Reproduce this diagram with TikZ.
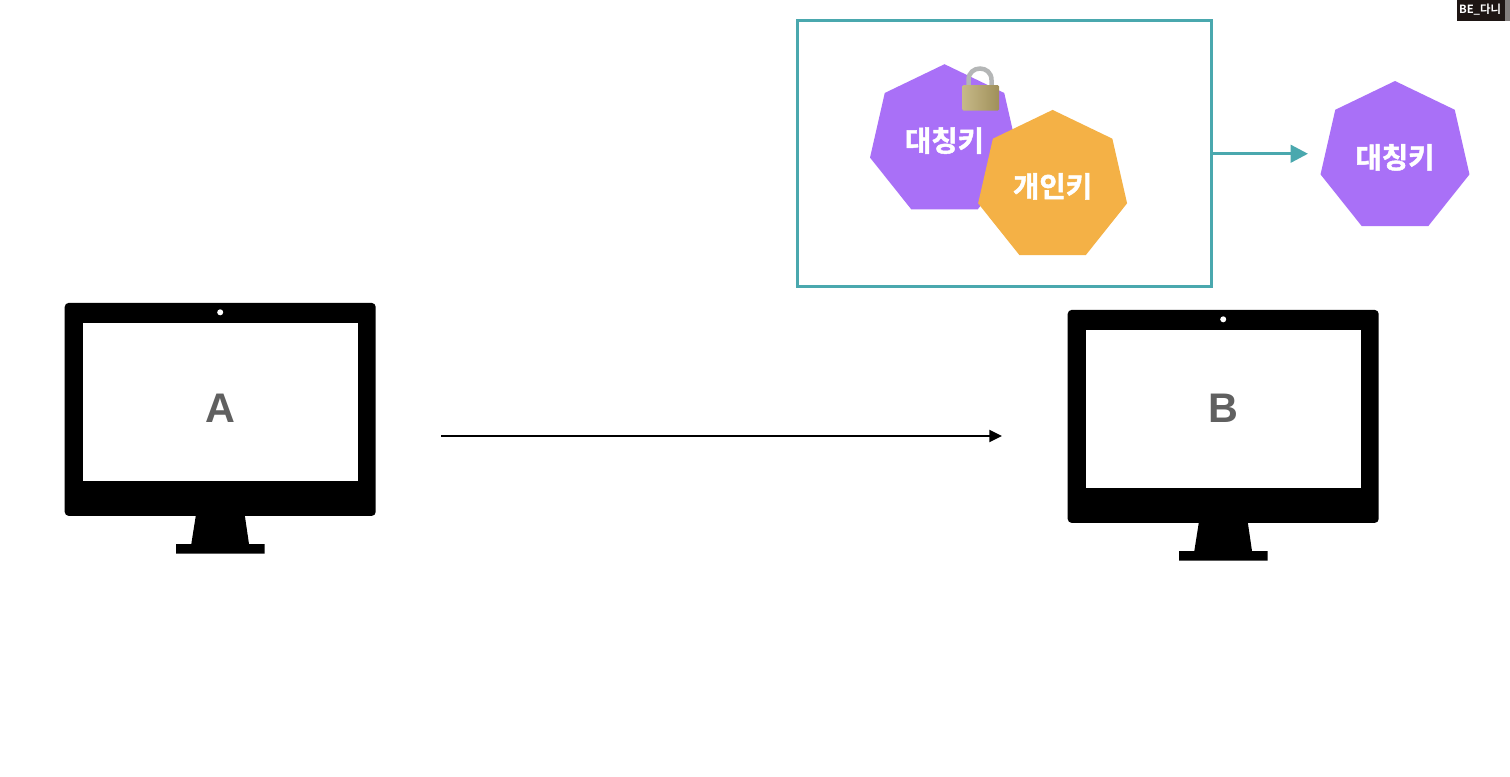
\documentclass[tikz,border=0pt]{standalone}
\usepackage{fontspec}
\setmainfont{Liberation Sans}
\newfontfamily\krfont{Noto Sans CJK KR}[BoldFont={Noto Sans CJK KR Bold},BoldFeatures={FakeBold=1.6}]
\newfontfamily\tagfont{Noto Sans CJK KR}[BoldFont={Noto Sans CJK KR Bold}]
\usetikzlibrary{shapes.geometric,arrows.meta}
\definecolor{tealbox}{HTML}{4AA8AE}
\definecolor{keypurple}{HTML}{A970F7}
\definecolor{keyorange}{HTML}{F4B146}
\definecolor{labelgray}{HTML}{606060}
\definecolor{corner}{HTML}{1E1614}
\definecolor{lockleft}{HTML}{C6B988}
\definecolor{lockright}{HTML}{A0905A}
\definecolor{shackle}{HTML}{B4B6B6}
\tikzset{
  x=.75pt,y=-.75pt,
  px/.style={line width=#1*.75pt},
  heptkey/.style={regular polygon,regular polygon sides=7,minimum size=114.6pt,inner sep=0pt,outer sep=0pt,
    fill=#1,text=white,font=\krfont\bfseries\fontsize{21.5pt}{25pt}\selectfont},
  monbody/.style={rectangle,fill=black,rounded corners=3pt,minimum width=233.25pt,minimum height=159.75pt,inner sep=0pt,outer sep=0pt},
  monscreen/.style={rectangle,fill=white,minimum width=206.5pt,minimum height=118.5pt,inner sep=0pt,outer sep=0pt},
  monlabel/.style={text=labelgray,inner sep=0pt,font=\bfseries\fontsize{31pt}{34pt}\selectfont},
  moncam/.style={circle,fill=white,minimum size=4.5pt,inner sep=0pt,outer sep=0pt},
  monstand/.style={fill=black},
  flow/.style={black,px=2.2,-{Triangle[length=9.5pt,width=9pt]}},
  tealflow/.style={tealbox,px=3.2,-{Triangle[length=13pt,width=13pt]}},
  framebox/.style={rectangle,draw=tealbox,px=3,minimum width=310.75pt,minimum height=199.5pt,inner sep=0pt,outer sep=0pt},
}
% #1 #2 shift, #3 text, #4 body name, #5 screen name, #6 label y
\newcommand{\monitorat}[6]{%
  \begin{scope}[shift={(#1,#2)}]
    \fill[monstand] (196.7,510) -- (244,510) -- (249,544) -- (264.7,544) -- (264.7,553.5) -- (176,553.5) -- (176,544) -- (191.3,544) -- cycle;
    \node[monbody] (#4) at (220.2,409.4) {};
    \node[monscreen] (#5) at (220.2,401.5) {};
    \node[moncam] (#4cam) at (220.2,312.3) {};
    \node[monlabel] (#4text) at (220.2,#6) {#3};
  \end{scope}}
\begin{document}
\begin{tikzpicture}
\useasboundingbox (0,0) rectangle (1510,776);
\fill[white] (0,0) rectangle (1510,776);
% corner tag
\fill[corner] (1457,0) rectangle (1505,21);
\fill[corner!55!white] (1505,0) rectangle (1510,21);
\node[text=white,inner sep=0pt,font=\tagfont\bfseries\fontsize{8.5pt}{10pt}\selectfont] (tag) at (1480,9.5) {BE\_다니};
% monitors
\monitorat{0}{0}{A}{monA}{scrA}{408}
\monitorat{1003}{7}{B}{monB}{scrB}{401}
\coordinate (flowstart) at (441,436);
\coordinate (flowend) at (1002,436);
\draw[flow] (flowstart) -- (flowend);
% frame
\node[framebox] (frame) at (1004.8,153.75) {};
% keys
\node[heptkey=keypurple] (sym) at (944.5,140.6) {대칭키};
\draw[color=shackle,px=4.5,line cap=butt] (968.5,86) -- (968.5,80) .. controls (968.5,64.7) and (991.5,64.7) .. (991.5,80) -- (991.5,86);
\shade[left color=lockleft,right color=lockright,rounded corners=1pt] (962.3,85) rectangle (999,110.7);
\node[heptkey=keyorange] (priv) at (1052.6,186.3) {개인키};
\node[heptkey=keypurple] (symout) at (1395,157.4) {대칭키};
\coordinate (frameout) at (1308,153.75);
\draw[tealflow] (frame.east) -- (frameout);
\end{tikzpicture}
\end{document}
